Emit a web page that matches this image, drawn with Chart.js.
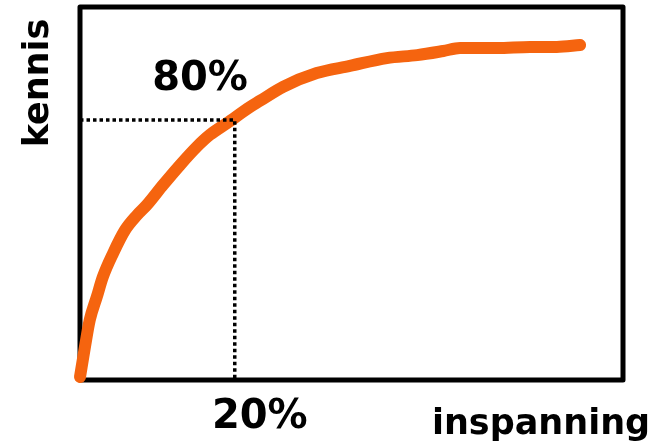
<!DOCTYPE html>
<html>
<head>
<meta charset="utf-8">
<script src="https://cdn.jsdelivr.net/npm/chart.js@4"></script>
<style>
  html, body { margin: 0; padding: 0; background: #fff; }
  #wrap { width: 669px; height: 445px; }
</style>
</head>
<body>
<div id="wrap"><canvas id="chart"></canvas></div>
<script>
// curve, in % of the box (x = inspanning, y = kennis)
const curveX = [0, 0.9, 1.8, 3.1, 4.2, 6.1, 8.3, 10.5, 12.3, 15.3, 18.4, 21.5, 23.9, 27.1, 31.3, 33.1, 37.4, 43.6, 49.7, 56.5, 62.1, 66.9, 70.0, 76.8, 82.9, 87.8, 92.1];
const curveY = [0.8, 8.8, 16.1, 22.3, 27.6, 34.0, 40.2, 44.2, 46.9, 52.3, 57.6, 62.5, 65.7, 68.9, 73.2, 74.8, 78.6, 82.3, 84.2, 86.3, 87.1, 88.2, 89.0, 89.0, 89.3, 89.3, 89.8];

// the marked point and its labels
const markX = 28.5;
const markY = 69.7;
const markLabels = ['20%', '80%'];
const axisLabels = ['inspanning', 'kennis'];

const curve = curveX.map((x, i) => ({ x: x, y: curveY[i] }));
const guide = [{ x: 0, y: markY }, { x: markX, y: markY }, { x: markX, y: 0 }];

// box round the plot area plus the text labels
const frame = {
    id: 'frame',
    beforeDatasetsDraw(chart) {
        const { ctx, chartArea: a } = chart;
        ctx.save();
        ctx.strokeStyle = '#000';
        ctx.lineWidth = 5;
        ctx.lineJoin = 'round';
        ctx.strokeRect(a.left, a.top, a.right - a.left, a.bottom - a.top);
        ctx.restore();
    },
    afterDraw(chart) {
        const { ctx, scales } = chart;
        const xm = scales.x.getPixelForValue(markX);
        const ym = scales.y.getPixelForValue(markY);
        ctx.save();
        ctx.fillStyle = '#000';
        ctx.textAlign = 'center';
        ctx.textBaseline = 'alphabetic';
        ctx.font = 'bold 40px "DejaVu Sans"';
        ctx.fillText(markLabels[0], xm + 25, 428);
        ctx.fillText(markLabels[1], 200, ym - 30);
        ctx.font = 'bold 35px "DejaVu Sans"';
        ctx.fillText(axisLabels[0], 541, 434);
        ctx.translate(48, 83);
        ctx.rotate(-Math.PI / 2);
        ctx.fillText(axisLabels[1], 0, 0);
        ctx.restore();
    }
};

new Chart(document.getElementById('chart'), {
    type: 'line',
    data: {
        datasets: [
            {
                data: guide,
                borderColor: '#000',
                borderWidth: 3.5,
                borderDash: [3.5, 3],
                pointRadius: 0,
                tension: 0,
                clip: false
            },
            {
                data: curve,
                borderColor: '#f5640f',
                borderWidth: 12,
                borderCapStyle: 'round',
                borderJoinStyle: 'round',
                pointRadius: 0,
                tension: 0.4,
                cubicInterpolationMode: 'monotone',
                clip: false
            }
        ]
    },
    options: {
        responsive: true,
        maintainAspectRatio: false,
        animation: false,
        layout: { padding: { left: 80, right: 46, top: 7, bottom: 65 } },
        plugins: { legend: { display: false }, tooltip: { enabled: false } },
        scales: {
            x: { type: 'linear', min: 0, max: 100, display: false },
            y: { type: 'linear', min: 0, max: 100, display: false }
        }
    },
    plugins: [frame]
});
</script>
</body>
</html>
